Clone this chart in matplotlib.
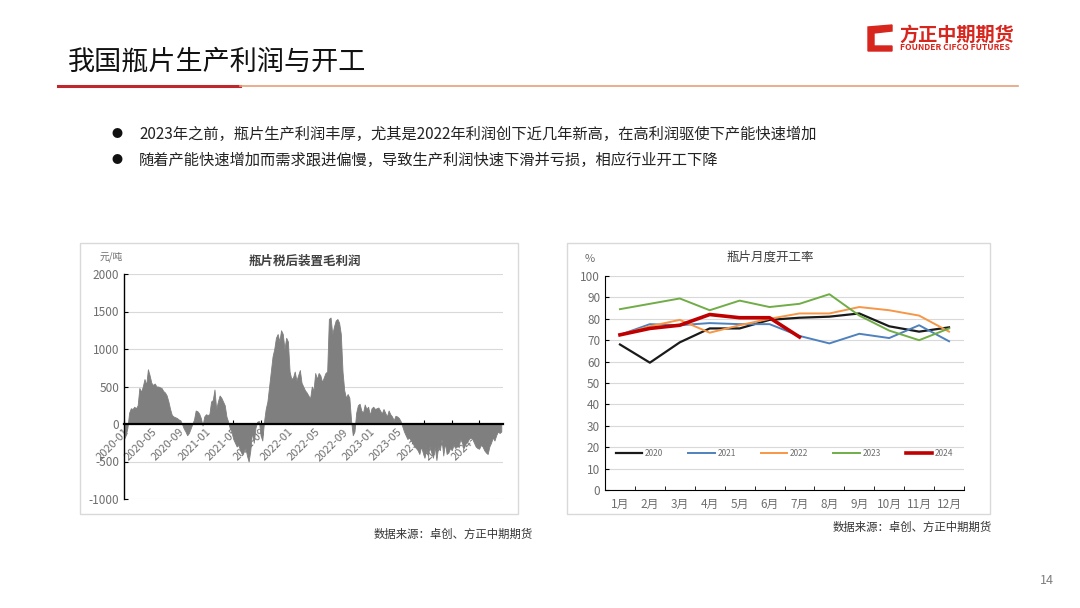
import numpy as np
import matplotlib.pyplot as plt
from matplotlib.patches import Rectangle, Polygon
from matplotlib.lines import Line2D

plt.rcParams['font.family'] = ['Noto Sans CJK SC', 'DejaVu Sans']
plt.rcParams['axes.unicode_minus'] = False

# 左图：瓶片税后装置毛利润（元/吨），2020-01 起每月约4个读数
profit = [
    -200, -150, -50, 150,  210, 200, 230, 210,  250, 480, 430, 500,  600, 520, 730, 650,
    550, 520, 540, 500,  500, 490, 480, 440,  420, 380, 300, 200,  120, 100, 90, 80,
    60, 50, 0, -60,  -100, -150, -120, -60,  0, 60, 180, 170,  140, 80, -20, 100,
    130, 120, 130, 300,  320, 460, 200, 300,  380, 350, 300, 250,  100, 30, -60, -100,
    -200, -250, -300, -280,  -350, -400, -380, -300,  -420, -500, -350, -100,  -250, -50, 30, 40,
    -150, -220, 30, 200,  300, 500, 700, 900,  1000, 1150, 1200, 1100,  1250, 1200, 1000, 1150,
    1100, 700, 600, 620,  700, 580, 650, 720,  550, 500, 450, 420,  380, 340, 500, 450,
    680, 600, 680, 650,  560, 620, 680, 700,  1400, 1420, 1200, 1300,  1380, 1400, 1350, 1200,
    700, 450, 350, 400,  350, 50, -150, -100,  150, 250, 270, 180,  150, 260, 200, 230,
    120, 210, 230, 200,  210, 220, 180, 140,  200, 150, 100, 180,  130, 100, 50, 110,
    100, 80, 40, -30,  -100, -150, -200, -180,  -220, -250, -300, -320,  -350, -400, -300, -380,
    -450, -350, -420, -300,  -380, -450, -300, -480,  -300, -350, -200, -420,  -250, -400, -380, -320,
    -350, -280, -320, -300,  -300, -200, -250, -320,  -260, -240, -200, -180,  -200, -250, -300, -320,
    -330, -280, -300, -350,  -380, -400, -300, -250,  -180, -220, -150, -100,  -120, -100,
]
profit_ticks = ['2020-01', '2020-05', '2020-09', '2021-01', '2021-05', '2021-09', '2022-01',
                '2022-05', '2022-09', '2023-01', '2023-05', '2023-09', '2024-01', '2024-05']

# 右图：瓶片月度开工率（%）
months = ['1月', '2月', '3月', '4月', '5月', '6月', '7月', '8月', '9月', '10月', '11月', '12月']
rate_2020 = [68, 59.5, 69, 75.5, 75.5, 79.5, 80.5, 81, 82.5, 76.5, 74, 76]
rate_2021 = [72.5, 77.5, 77, 78, 77.5, 77.5, 72, 68.5, 73, 71, 77, 69.5]
rate_2022 = [72.5, 76.5, 79.5, 73.5, 77, 80, 82.5, 82.5, 85.5, 84, 81.5, 74]
rate_2023 = [84.5, 87, 89.5, 84, 88.5, 85.5, 87, 91.5, 81.5, 74.5, 70, 75.5]
rate_2024 = [72.5, 75.5, 77, 82, 80.5, 80.5, 71.5]

W, H = 1080, 608
fig = plt.figure(figsize=(10.8, 6.08), dpi=100)


def box(x, y, w, h):
    # pixel box -> figure fraction
    return [x / W, 1 - (y + h) / H, w / W, h / H]


def fx(x):
    return x / W


def fy(y):
    return 1 - y / H


# 标题与页眉
fig.text(fx(68), fy(62), '我国瓶片生产利润与开工', fontsize=19.5, va='center', ha='left', color='#111111')
fig.add_artist(Line2D([fx(58), fx(240)], [fy(86), fy(86)], color='#c0272d', lw=2.2))
fig.add_artist(Line2D([fx(240), fx(1018)], [fy(86), fy(86)], color='#e8a07a', lw=1.2))

# logo
fig.add_artist(Polygon([(fx(868), fy(27)), (fx(892), fy(25)), (fx(892), fy(31)), (fx(874), fy(33)),
                        (fx(874), fy(46)), (fx(892), fy(46)), (fx(892), fy(51)), (fx(868), fy(51))],
                       closed=True, color='#d7261e', transform=fig.transFigure))
fig.text(fx(899), fy(35), '方正中期期货', fontsize=13.8, fontweight='bold', color='#d7261e', va='center')
fig.text(fx(900), fy(47.5), 'FOUNDER CIFCO FUTURES', fontsize=6.1, fontweight='bold', color='#d7261e', va='center')

# 要点
bullets = ['2023年之前，瓶片生产利润丰厚，尤其是2022年利润创下近几年新高，在高利润驱使下产能快速增加',
           '随着产能快速增加而需求跟进偏慢，导致生产利润快速下滑并亏损，相应行业开工下降']
for i, t in enumerate(bullets):
    yy = fy(134 + 26 * i)
    fig.text(fx(111), yy, '●', fontsize=8, va='center', color='#111111')
    fig.text(fx(139), yy, t, fontsize=11, va='center', color='#222222')

# 图框
for x0 in (80, 567):
    fig.add_artist(Rectangle((fx(x0), fy(514)), (438 if x0 == 80 else 423) / W, 271 / H,
                             transform=fig.transFigure, fill=False, ec='#d9d9d9', lw=1))

grey = '#6e6e6e'

# ---- 左图 ----
ax1 = fig.add_axes(box(124, 274, 379, 225))
px = np.arange(len(profit)) / 4
ax1.fill_between(px, profit, 0, color='#7f7f7f', lw=0.6, ec='#7f7f7f')
ax1.set_xlim(0, 55.5)
ax1.set_ylim(-1000, 2000)
ax1.set_yticks(range(-1000, 2001, 500))
ax1.yaxis.grid(True, color='#d9d9d9', lw=0.8)
ax1.set_axisbelow(True)
for s in ('top', 'right'):
    ax1.spines[s].set_visible(False)
ax1.spines['bottom'].set_position(('data', 0))
ax1.spines['bottom'].set_linewidth(1.6)
ax1.spines['bottom'].set_zorder(5)
ax1.spines['left'].set_linewidth(1.0)
ax1.set_xticks(np.arange(len(profit_ticks)) * 4)
ax1.set_xticklabels(profit_ticks, rotation=45, ha='right', va='top', rotation_mode='anchor')
ax1.tick_params(axis='x', direction='in', length=3, labelsize=8, labelcolor=grey, pad=2)
ax1.tick_params(axis='y', direction='in', length=3, labelsize=8.5, labelcolor=grey)
fig.text(fx(305), fy(261), '瓶片税后装置毛利润', fontsize=9, fontweight='bold', color='#404040', ha='center', va='center')
fig.text(fx(100), fy(257), '元/吨', fontsize=7, color=grey, ha='left', va='center')

# ---- 右图 ----
ax2 = fig.add_axes(box(605, 276, 359, 214))
mx = np.arange(1, 13)
ax2.plot(mx, rate_2020, color='#1a1a1a', lw=1.6, label='2020')
ax2.plot(mx, rate_2021, color='#4f81bd', lw=1.4, label='2021')
ax2.plot(mx, rate_2022, color='#f79646', lw=1.4, label='2022')
ax2.plot(mx, rate_2023, color='#70ad47', lw=1.4, label='2023')
ax2.plot(mx[:len(rate_2024)], rate_2024, color='#c00000', lw=2.6, label='2024')
ax2.set_xlim(0.5, 12.5)
ax2.set_ylim(0, 100)
ax2.set_yticks(range(0, 101, 10))
ax2.set_xticks(mx)
ax2.set_xticklabels(months)
ax2.set_xticks(np.arange(0.5, 13, 1), minor=True)
ax2.tick_params(axis='x', which='major', length=0, labelsize=8.5, labelcolor=grey, pad=6)
ax2.tick_params(axis='x', which='minor', direction='in', length=3)
ax2.tick_params(axis='y', direction='in', length=3, labelsize=8.5, labelcolor=grey)
ax2.yaxis.grid(True, color='#d9d9d9', lw=0.8)
ax2.set_axisbelow(True)
for s in ('top', 'right'):
    ax2.spines[s].set_visible(False)
ax2.legend(loc='center', bbox_to_anchor=(0.5, 0.17), ncol=5, frameon=False, fontsize=6,
           handlelength=3.2, columnspacing=3.0, handletextpad=0.3, labelcolor=grey)
fig.text(fx(770), fy(257), '瓶片月度开工率', fontsize=9, color='#404040', ha='center', va='center')
fig.text(fx(585), fy(259), '%', fontsize=8, color=grey, ha='left', va='center')

# 数据来源与页码
fig.text(fx(374), fy(534), '数据来源：卓创、方正中期期货', fontsize=8.2, color='#333333', va='center')
fig.text(fx(833), fy(527), '数据来源：卓创、方正中期期货', fontsize=8.2, color='#333333', va='center')
fig.text(fx(1054), fy(580), '14', fontsize=9, color='#7f7f7f', ha='right', va='center')

fig.savefig('out.png', dpi=100, facecolor='white')
